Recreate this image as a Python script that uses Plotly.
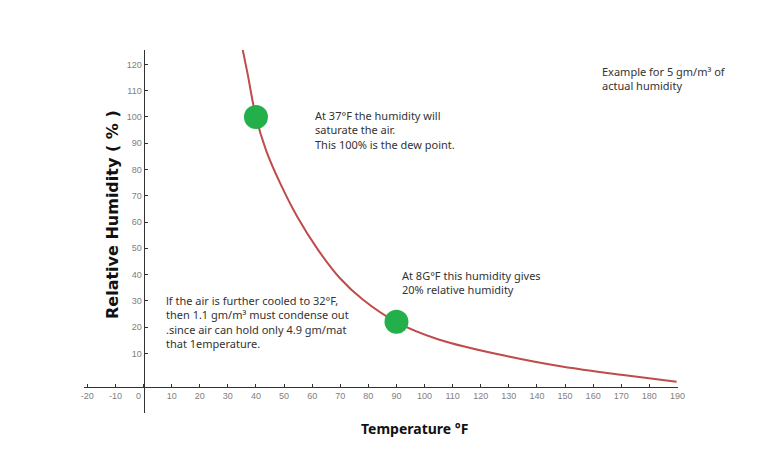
import plotly.graph_objects as go

# Data
temperature_f = [35.3, 37, 40, 43.6, 48.6, 54.7, 62.1, 69.9, 78, 90, 105, 130.4, 149.4, 170.7, 189.7]
relative_humidity = [125.5, 116.6, 100, 87.3, 74.8, 62.0, 49.4, 38.6, 30.5, 21.9, 15.3, 8.7, 4.9, 1.75, -0.8]
point_temps = [40, 90]
point_humidity = [100, 22]
x_ticks = [-20, -10, 0, 10, 20, 30, 40, 50, 60, 70, 80, 90, 100, 110, 120, 130, 140, 150, 160, 170, 180, 190]
y_ticks = [10, 20, 30, 40, 50, 60, 70, 80, 90, 100, 110, 120]

OFF = 8  # page body margin
W, H = 780 - OFF, 460 - OFF
L, R, T, B = 84, 678, 50, 413  # plot area in page pixels

def px(x):
    return (x - L) / (R - L)

def py(y):
    return (B - y) / (B - T)

x_labels = [(str(v) + "\u2007\u2007") if v == 0 else str(v) for v in x_ticks]

fig = go.Figure()
fig.add_trace(go.Scatter(x=temperature_f, y=relative_humidity, mode="lines",
                         line=dict(color="#bf4b4b", width=2, shape="spline", smoothing=1.0),
                         hoverinfo="skip", showlegend=False))
fig.add_trace(go.Scatter(x=point_temps, y=point_humidity, mode="markers",
                         marker=dict(color="#23b04a", size=24), showlegend=False))

tickfont = dict(family="Liberation Sans", size=9, color="#808080")
x_pos = (B - 387.3) / (B - T)
y_pos = px(143.5)
common = dict(showgrid=False, zeroline=False, showline=True, linecolor="#333333", linewidth=1,
              tickcolor="#333333", ticklen=3, tickfont=tickfont, anchor="free")
fig.update_layout(
    width=W, height=H,
    margin=dict(l=L - OFF, r=W - (R - OFF), t=T - OFF, b=H - (B - OFF)),
    paper_bgcolor="white", plot_bgcolor="white",
    xaxis=dict(range=[-21.2, 190.2], tickvals=x_ticks, ticktext=x_labels,
               ticks="inside", position=x_pos, **common),
    xaxis2=dict(range=[-21.2, 190.2], tickvals=x_ticks, overlaying="x", side="bottom",
                ticks="outside", showticklabels=False, position=x_pos, **common),
    yaxis=dict(range=[-12.7, 125.5], tickvals=y_ticks, ticktext=[str(v) for v in y_ticks],
               ticks="inside", position=y_pos, **common),
    yaxis2=dict(range=[-12.7, 125.5], tickvals=y_ticks, overlaying="y", side="left",
                ticks="outside", showticklabels=False, position=y_pos, **common),
)

textfont = dict(family="Noto Sans", size=11, color="#333333")
notes = [
    ("At 37°F the humidity will<br>saturate the air.<br>This 100% is the dew point.", 313, 106),
    ("lf the air is further cooled to 32°F,<br>then 1.1 gm/m³ must condense out<br>.since air can hold only 4.9 gm/mat<br>that 1emperature.", 164, 291),
    ("At 8G°F this humidity gives<br>20% relative humidity", 400, 266),
    ("Example for 5 gm/m³ of<br>actual humidity", 600, 62),
]
for txt, x0, y0 in notes:
    fig.add_annotation(text=txt, xref="paper", yref="paper", x=px(x0), y=py(y0),
                       xanchor="left", yanchor="top", align="left", showarrow=False,
                       font=textfont)

fig.add_annotation(text="<b>Temperature °F</b>", xref="paper", yref="paper",
                   x=px(414), y=py(428), xanchor="center", yanchor="middle",
                   showarrow=False, font=dict(family="Noto Sans", size=14, color="#111111"))
fig.add_annotation(text="<b>Relative Humidity ( % )</b>", xref="paper", yref="paper",
                   x=px(112), y=py(215), xanchor="center", yanchor="middle",
                   textangle=-90, showarrow=False,
                   font=dict(family="DejaVu Sans", size=16, color="#111111"))

fig.write_html("out.html")
